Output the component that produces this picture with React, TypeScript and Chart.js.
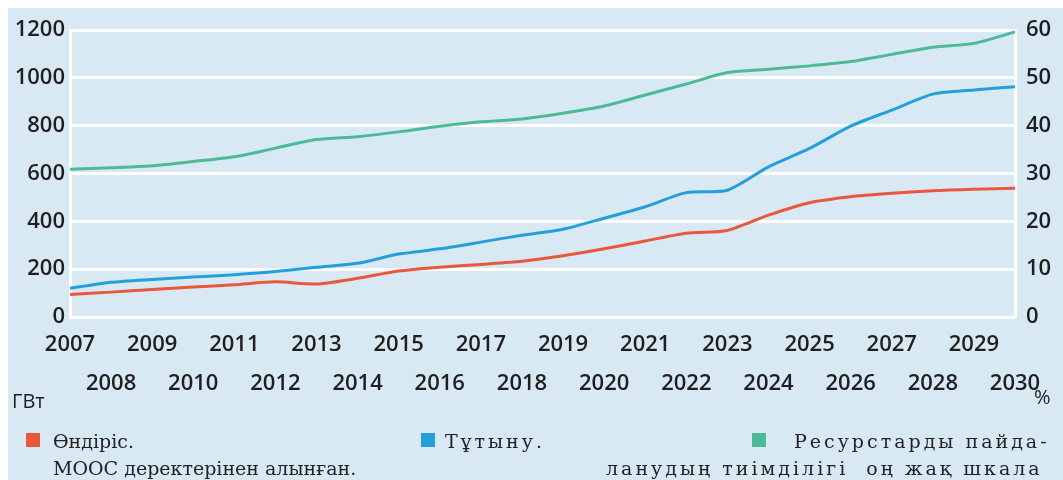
import React, { useEffect, useRef } from 'react';
import { Chart, registerables } from 'chart.js';

Chart.register(...registerables);

const years = ['2007', '2008', '2009', '2010', '2011', '2012', '2013', '2014', '2015', '2016', '2017', '2018', '2019', '2020', '2021', '2022', '2023', '2024', '2025', '2026', '2027', '2028', '2029', '2030'];
const production = [94, 104, 115, 125, 135, 147, 138, 162, 192, 208, 220, 233, 256, 285, 318, 350, 362, 426, 478, 503, 517, 528, 534, 538];
const consumption = [120, 145, 157, 167, 177, 190, 208, 225, 263, 285, 313, 342, 367, 413, 461, 520, 530, 628, 705, 798, 865, 932, 949, 963];
const efficiency = [30.9, 31.2, 31.6, 32.5, 33.5, 35.3, 37.1, 37.7, 38.7, 39.9, 40.8, 41.4, 42.6, 44.1, 46.4, 48.7, 51.1, 51.8, 52.5, 53.4, 54.9, 56.4, 57.2, 59.6];

const seriesNames = ['Өндіріс', 'Тұтыну', 'Ресурстарды пайдаланудың тиімділігі'];
const colors = { red: '#e9573c', blue: '#259fd9', green: '#4dba96' };
const BG = '#d9e9f4';
const SANS = "'Open Sans', 'Noto Sans', sans-serif";
const SERIF = "'DejaVu Serif', 'Liberation Serif', serif";
const TICK_FONT = { family: SANS, size: 22, weight: '600' as any };

const bgPlugin = {
  id: 'bgPlugin',
  beforeDraw(chart: any) {
    const ctx = chart.ctx;
    ctx.save();
    ctx.fillStyle = '#ffffff';
    ctx.fillRect(0, 0, chart.width, chart.height);
    ctx.fillStyle = BG;
    ctx.fillRect(8, 8, chart.width - 8, chart.height - 8);
    ctx.restore();
  },
};

export default function App() {
  const ref = useRef<HTMLCanvasElement | null>(null);

  useEffect(() => {
    if (!ref.current) return;
    const labels = years.map((y, i) => (i % 2 === 0 ? [y, ''] : ['', y]));
    const chart = new Chart(ref.current, {
      type: 'line',
      data: {
        labels,
        datasets: [
          { label: seriesNames[0], data: production, borderColor: colors.red, backgroundColor: colors.red, borderWidth: 3, pointRadius: 0, tension: 0.25, yAxisID: 'y' },
          { label: seriesNames[1], data: consumption, borderColor: colors.blue, backgroundColor: colors.blue, borderWidth: 3, pointRadius: 0, tension: 0.25, yAxisID: 'y' },
          { label: seriesNames[2], data: efficiency, borderColor: colors.green, backgroundColor: colors.green, borderWidth: 3, pointRadius: 0, tension: 0.25, yAxisID: 'y1' },
        ],
      },
      options: {
        responsive: false,
        animation: false,
        devicePixelRatio: 1,
        layout: { padding: { top: 30, left: 0, right: 0, bottom: 0 } },
        plugins: { legend: { display: false }, tooltip: { enabled: false } },
        scales: {
          x: {
            type: 'category',
            grid: { display: false },
            border: { display: false },
            ticks: {
              autoSkip: false,
              maxRotation: 0,
              minRotation: 0,
              padding: 0,
              color: '#1f1f1f',
              font: { ...TICK_FONT, lineHeight: 1.77 },
            },
            afterFit: (s: any) => { s.height = 163; },
          },
          y: {
            position: 'left',
            min: 0,
            max: 1200,
            grid: { color: '#ffffff', lineWidth: 3, drawTicks: false },
            border: { display: true, color: '#ffffff', width: 3 },
            ticks: { stepSize: 200, padding: 5, color: '#1f1f1f', font: TICK_FONT, callback: (v: any) => String(v) },
            afterFit: (s: any) => { s.width = 70; },
          },
          y1: {
            position: 'right',
            min: 0,
            max: 60,
            grid: { drawOnChartArea: false, drawTicks: false },
            border: { display: true, color: '#ffffff', width: 3 },
            ticks: { stepSize: 10, padding: 11, color: '#1f1f1f', font: TICK_FONT, callback: (v: any) => String(v) },
            afterFit: (s: any) => { s.width = 48; },
          },
        },
      },
      plugins: [bgPlugin],
    } as any);
    return () => chart.destroy();
  }, []);

  const txt: React.CSSProperties = { position: 'absolute', fontFamily: SERIF, fontSize: 19, lineHeight: '22px', color: '#222', whiteSpace: 'nowrap' };
  const wide: React.CSSProperties = { ...txt, letterSpacing: '3px' };
  const sq = (c: string, left: number): React.CSSProperties => ({ position: 'absolute', left, top: 433, width: 14, height: 14, background: c });

  return (
    <div style={{ position: 'fixed', left: 0, top: 0, width: 1063, height: 480, overflow: 'hidden', background: '#fff' }}>
      <canvas ref={ref} width={1063} height={480} style={{ position: 'absolute', left: 0, top: 0, width: 1063, height: 480 }} />
      <div style={{ position: 'absolute', left: 12, top: 389, fontFamily: SANS, fontSize: 20, lineHeight: '24px', color: '#1f1f1f' }}>ГВт</div>
      <div style={{ position: 'absolute', left: 1034, top: 385, fontFamily: SANS, fontSize: 20, lineHeight: '24px', color: '#1f1f1f' }}>%</div>
      <div style={sq(colors.red, 26)} />
      <div style={{ ...txt, left: 53, top: 430 }}>Өндіріс.</div>
      <div style={{ ...txt, left: 53, top: 457 }}>МООС деректерінен алынған.</div>
      <div style={sq(colors.blue, 421)} />
      <div style={{ ...wide, left: 445, top: 430 }}>Тұтыну.</div>
      <div style={sq(colors.green, 752)} />
      <div style={{ ...wide, left: 794, top: 430 }}>Ресурстарды пайда-</div>
      <div style={{ ...wide, left: 606, top: 457 }}>ланудың тиімділігі&nbsp;&nbsp;оң жақ шкала</div>
    </div>
  );
}
